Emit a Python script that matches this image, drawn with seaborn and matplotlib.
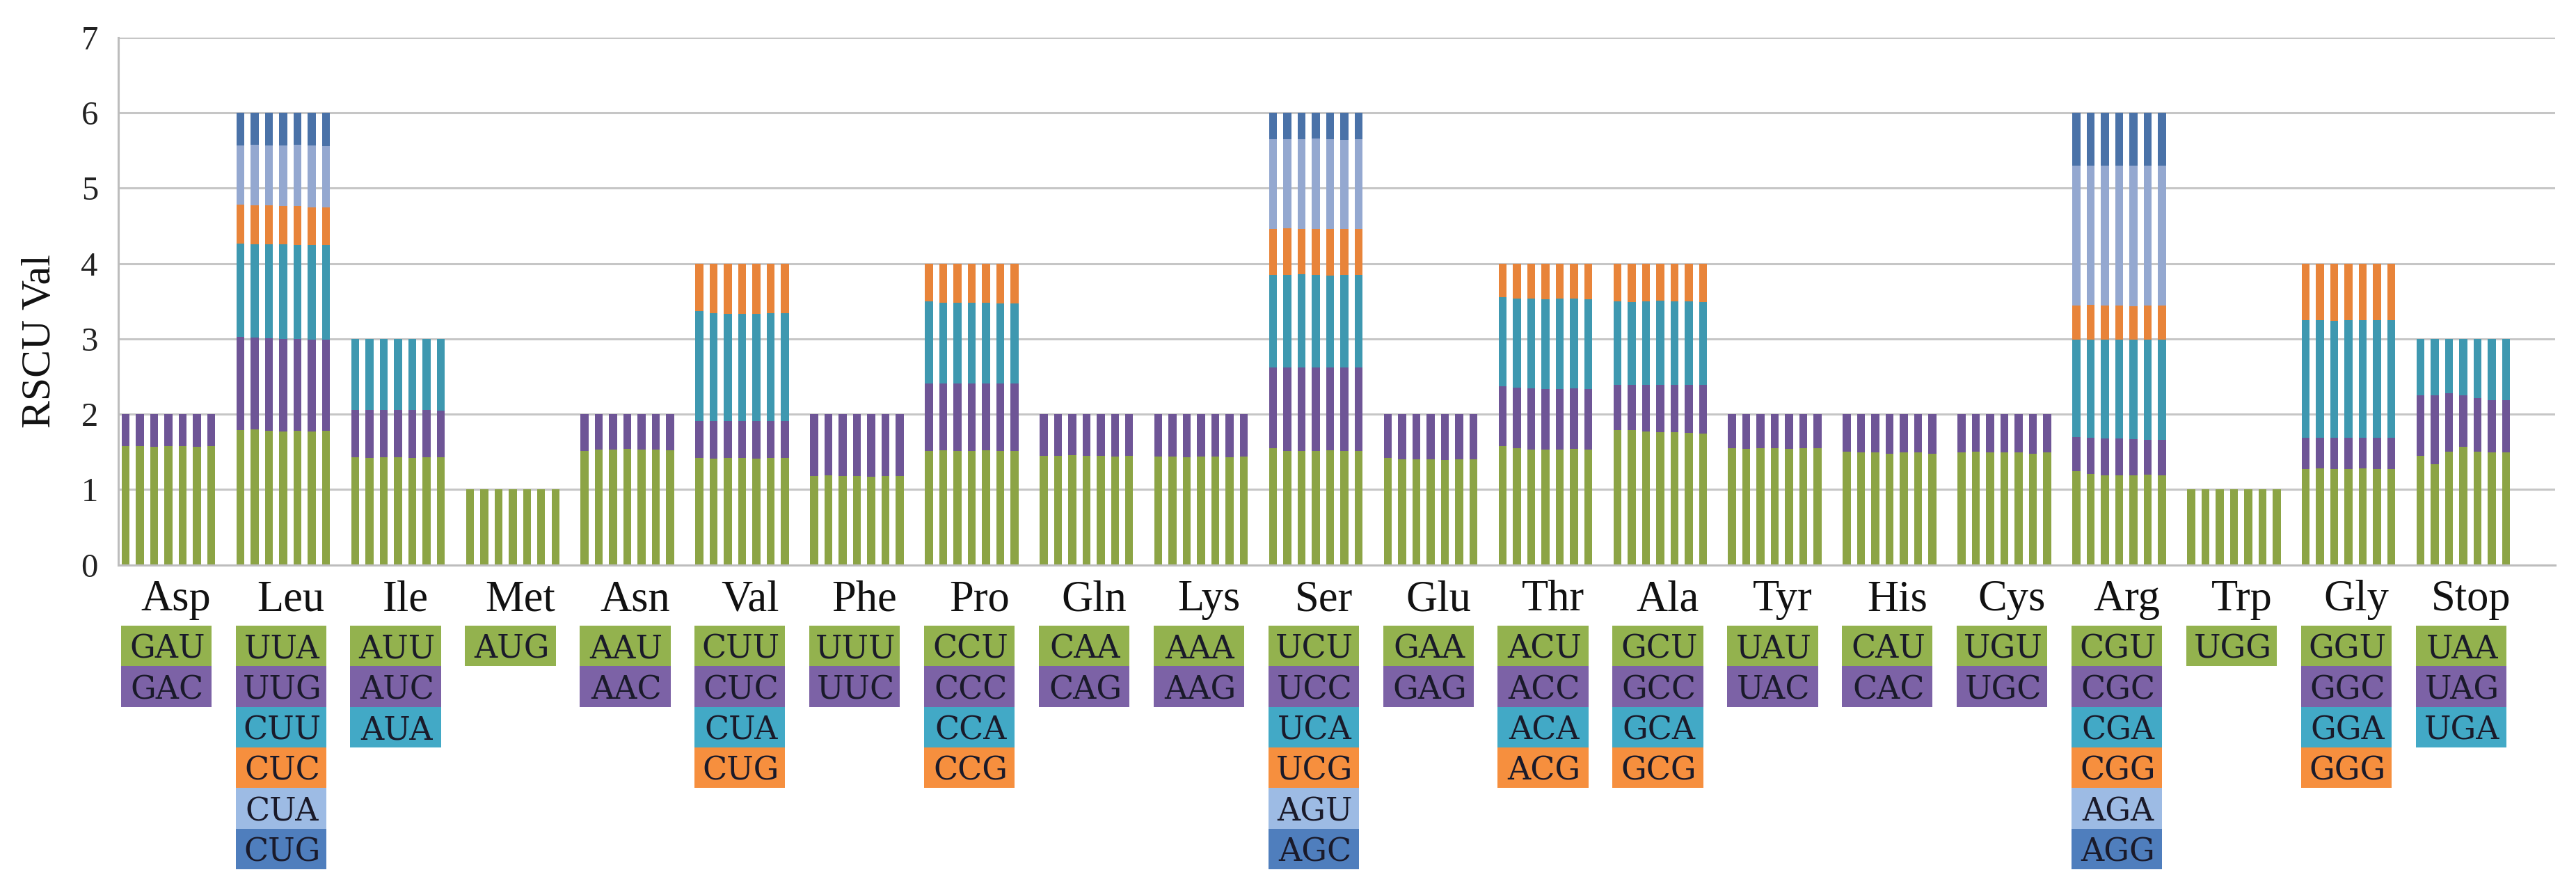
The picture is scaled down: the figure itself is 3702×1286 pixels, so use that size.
import numpy as np
import pandas as pd
import matplotlib
matplotlib.use("Agg")
import matplotlib.pyplot as plt
import seaborn as sns
from matplotlib.patches import Rectangle
from matplotlib.transforms import blended_transform_factory

# Amino acids (x categories) and the codon labels shown in the boxes below
amino_acids = ["Asp", "Leu", "Ile", "Met", "Asn", "Val", "Phe", "Pro", "Gln", "Lys", "Ser",
               "Glu", "Thr", "Ala", "Tyr", "His", "Cys", "Arg", "Trp", "Gly", "Stop"]
codon_labels = [
    ["GAU", "GAC"],
    ["UUA", "UUG", "CUU", "CUC", "CUA", "CUG"],
    ["AUU", "AUC", "AUA"],
    ["AUG"],
    ["AAU", "AAC"],
    ["CUU", "CUC", "CUA", "CUG"],
    ["UUU", "UUC"],
    ["CCU", "CCC", "CCA", "CCG"],
    ["CAA", "CAG"],
    ["AAA", "AAG"],
    ["UCU", "UCC", "UCA", "UCG", "AGU", "AGC"],
    ["GAA", "GAG"],
    ["ACU", "ACC", "ACA", "ACG"],
    ["GCU", "GCC", "GCA", "GCG"],
    ["UAU", "UAC"],
    ["CAU", "CAC"],
    ["UGU", "UGC"],
    ["CGU", "CGC", "CGA", "CGG", "AGA", "AGG"],
    ["UGG"],
    ["GGU", "GGC", "GGA", "GGG"],
    ["UAA", "UAG", "UGA"],
]
genomes = ["G1", "G2", "G3", "G4", "G5", "G6", "G7"]

# RSCU values, one row per codon, one value per genome
rscu_asp = [[1.58, 1.58, 1.57, 1.58, 1.58, 1.57, 1.58],
            [0.42, 0.42, 0.43, 0.42, 0.42, 0.43, 0.42]]
rscu_leu = [[1.79, 1.80, 1.78, 1.77, 1.78, 1.77, 1.78],
            [1.24, 1.22, 1.23, 1.23, 1.22, 1.22, 1.21],
            [1.24, 1.24, 1.25, 1.26, 1.25, 1.26, 1.26],
            [0.51, 0.51, 0.51, 0.50, 0.51, 0.50, 0.50],
            [0.79, 0.81, 0.80, 0.81, 0.82, 0.82, 0.81],
            [0.43, 0.42, 0.43, 0.43, 0.42, 0.43, 0.44]]
rscu_ile = [[1.43, 1.42, 1.43, 1.43, 1.42, 1.43, 1.43],
            [0.63, 0.64, 0.63, 0.63, 0.64, 0.63, 0.62],
            [0.94, 0.94, 0.94, 0.94, 0.94, 0.94, 0.95]]
rscu_met = [[1.00, 1.00, 1.00, 1.00, 1.00, 1.00, 1.00]]
rscu_asn = [[1.51, 1.53, 1.53, 1.54, 1.53, 1.53, 1.52],
            [0.49, 0.47, 0.47, 0.46, 0.47, 0.47, 0.48]]
rscu_val = [[1.42, 1.41, 1.42, 1.42, 1.41, 1.42, 1.42],
            [0.49, 0.50, 0.49, 0.49, 0.50, 0.49, 0.49],
            [1.46, 1.43, 1.42, 1.42, 1.42, 1.43, 1.43],
            [0.63, 0.66, 0.67, 0.67, 0.67, 0.66, 0.66]]
rscu_phe = [[1.18, 1.19, 1.18, 1.18, 1.17, 1.18, 1.18],
            [0.82, 0.81, 0.82, 0.82, 0.83, 0.82, 0.82]]
rscu_pro = [[1.51, 1.52, 1.51, 1.51, 1.52, 1.51, 1.51],
            [0.90, 0.89, 0.90, 0.90, 0.89, 0.90, 0.90],
            [1.09, 1.07, 1.07, 1.07, 1.07, 1.06, 1.06],
            [0.50, 0.52, 0.52, 0.52, 0.52, 0.53, 0.53]]
rscu_gln = [[1.45, 1.45, 1.46, 1.45, 1.45, 1.44, 1.45],
            [0.55, 0.55, 0.54, 0.55, 0.55, 0.56, 0.55]]
rscu_lys = [[1.44, 1.44, 1.43, 1.44, 1.44, 1.43, 1.44],
            [0.56, 0.56, 0.57, 0.56, 0.56, 0.57, 0.56]]
rscu_ser = [[1.55, 1.51, 1.51, 1.51, 1.52, 1.51, 1.51],
            [1.07, 1.11, 1.11, 1.11, 1.10, 1.11, 1.11],
            [1.23, 1.23, 1.24, 1.23, 1.22, 1.23, 1.23],
            [0.61, 0.62, 0.60, 0.61, 0.62, 0.61, 0.61],
            [1.19, 1.18, 1.19, 1.20, 1.19, 1.18, 1.19],
            [0.35, 0.35, 0.35, 0.34, 0.35, 0.36, 0.35]]
rscu_glu = [[1.42, 1.40, 1.40, 1.40, 1.39, 1.40, 1.40],
            [0.58, 0.60, 0.60, 0.60, 0.61, 0.60, 0.60]]
rscu_thr = [[1.58, 1.55, 1.53, 1.53, 1.53, 1.54, 1.53],
            [0.79, 0.80, 0.81, 0.80, 0.80, 0.80, 0.80],
            [1.18, 1.19, 1.20, 1.20, 1.21, 1.20, 1.20],
            [0.45, 0.46, 0.46, 0.47, 0.46, 0.46, 0.47]]
rscu_ala = [[1.79, 1.79, 1.77, 1.76, 1.76, 1.75, 1.74],
            [0.60, 0.60, 0.62, 0.63, 0.63, 0.64, 0.65],
            [1.11, 1.10, 1.11, 1.12, 1.11, 1.11, 1.10],
            [0.50, 0.51, 0.50, 0.49, 0.50, 0.50, 0.51]]
rscu_tyr = [[1.55, 1.54, 1.55, 1.55, 1.54, 1.55, 1.55],
            [0.45, 0.46, 0.45, 0.45, 0.46, 0.45, 0.45]]
rscu_his = [[1.50, 1.49, 1.49, 1.48, 1.49, 1.49, 1.48],
            [0.50, 0.51, 0.51, 0.52, 0.51, 0.51, 0.52]]
rscu_cys = [[1.49, 1.50, 1.49, 1.49, 1.49, 1.48, 1.49],
            [0.51, 0.50, 0.51, 0.51, 0.51, 0.52, 0.51]]
rscu_arg = [[1.24, 1.21, 1.19, 1.19, 1.19, 1.20, 1.19],
            [0.46, 0.48, 0.49, 0.49, 0.48, 0.46, 0.47],
            [1.29, 1.30, 1.31, 1.31, 1.32, 1.33, 1.33],
            [0.45, 0.46, 0.45, 0.45, 0.44, 0.45, 0.45],
            [1.86, 1.85, 1.86, 1.86, 1.87, 1.86, 1.86],
            [0.70, 0.70, 0.70, 0.70, 0.70, 0.70, 0.70]]
rscu_trp = [[1.00, 1.00, 1.00, 1.00, 1.00, 1.00, 1.00]]
rscu_gly = [[1.27, 1.28, 1.27, 1.27, 1.28, 1.27, 1.27],
            [0.42, 0.41, 0.42, 0.42, 0.41, 0.42, 0.42],
            [1.56, 1.56, 1.55, 1.56, 1.56, 1.56, 1.56],
            [0.75, 0.75, 0.76, 0.75, 0.75, 0.75, 0.75]]
rscu_stop = [[1.45, 1.34, 1.50, 1.57, 1.50, 1.49, 1.49],
             [0.80, 0.91, 0.78, 0.68, 0.71, 0.70, 0.70],
             [0.75, 0.75, 0.72, 0.75, 0.79, 0.81, 0.81]]

rscu = [rscu_asp, rscu_leu, rscu_ile, rscu_met, rscu_asn, rscu_val, rscu_phe, rscu_pro,
        rscu_gln, rscu_lys, rscu_ser, rscu_glu, rscu_thr, rscu_ala, rscu_tyr, rscu_his,
        rscu_cys, rscu_arg, rscu_trp, rscu_gly, rscu_stop]

# colours by codon position in the stack
bar_colors = ["#8ca445", "#6e5596", "#3e98b0", "#e8843a", "#94a8d0", "#4a72a8"]
box_colors = ["#93b24e", "#7c62a6", "#42a9c6", "#f68f3e", "#9dbbe4", "#4f7ebd"]

W, H = 3702, 1286


def build_frame():
    rows = []
    for aa, values in zip(amino_acids, rscu):
        arr = np.array(values)
        tops = arr.cumsum(axis=0)
        for k in range(arr.shape[0]):
            for j, g in enumerate(genomes):
                rows.append({"amino": aa, "genome": g, "layer": k, "top": tops[k, j]})
    return pd.DataFrame(rows)


def draw_chart(df):
    sns.set_style("white")
    plt.rcParams["font.family"] = ["Liberation Serif", "DejaVu Serif"]

    fig = plt.figure(figsize=(W / 100, H / 100), dpi=100)
    ax = fig.add_axes([170 / W, 1 - 811.7 / H, (3672 - 170) / W, (811.7 - 54) / H])

    # stacked bars: draw cumulative heights from the top layer down
    for k in reversed(range(6)):
        sub = df[df["layer"] == k]
        sns.barplot(data=sub, x="amino", y="top", hue="genome", order=amino_acids,
                    hue_order=genomes, palette={g: bar_colors[k] for g in genomes},
                    width=0.87, gap=0.44, saturation=1, errorbar=None, legend=False,
                    linewidth=0, ax=ax, zorder=2)

    ax.set_xlim(-0.437, 20.80)
    ax.set_ylim(0, 7)
    ax.set_yticks(range(8))
    ax.set_xticks([])
    ax.set_xlabel("")
    ax.set_ylabel("")
    ax.set_axisbelow(True)
    ax.yaxis.grid(True, color="#c6c6c6", linewidth=2.2)
    ax.xaxis.grid(False)
    for side in ["top", "right"]:
        ax.spines[side].set_visible(False)
    for side in ["left", "bottom"]:
        ax.spines[side].set_color("#bdbdbd")
        ax.spines[side].set_linewidth(2.2)
    ax.tick_params(axis="y", length=0, labelsize=35, pad=21, labelcolor="#222222")

    fig.text(58 / W, 1 - 490 / H, "RSCU Val", rotation=90, ha="center", va="center",
             fontsize=43, color="#111111")

    # amino-acid names and codon boxes under the axis
    trans = blended_transform_factory(ax.transData, fig.transFigure)
    box_h = 58.3
    box_w = 0.79
    for i, (aa, cods) in enumerate(zip(amino_acids, codon_labels)):
        ax.text(i + 0.067, 1 - 877 / H, aa, ha="center", va="baseline", fontsize=45,
                color="#111111", transform=trans, clip_on=False)
        for k, cod in enumerate(cods):
            top_px = 899 + box_h * k
            ax.add_patch(Rectangle((i - 0.02 - box_w / 2, 1 - (top_px + box_h) / H),
                                   box_w, box_h / H, transform=trans,
                                   facecolor=box_colors[k], edgecolor="none",
                                   clip_on=False))
            ax.text(i - 0.01, 1 - (top_px + 47) / H, cod, ha="center", va="baseline",
                    fontsize=33, family=["DejaVu Serif"], color="#1a1a2a",
                    transform=trans, clip_on=False)

    fig.savefig("out.png", dpi=100)
    plt.close(fig)


if __name__ == "__main__":
    draw_chart(build_frame())
